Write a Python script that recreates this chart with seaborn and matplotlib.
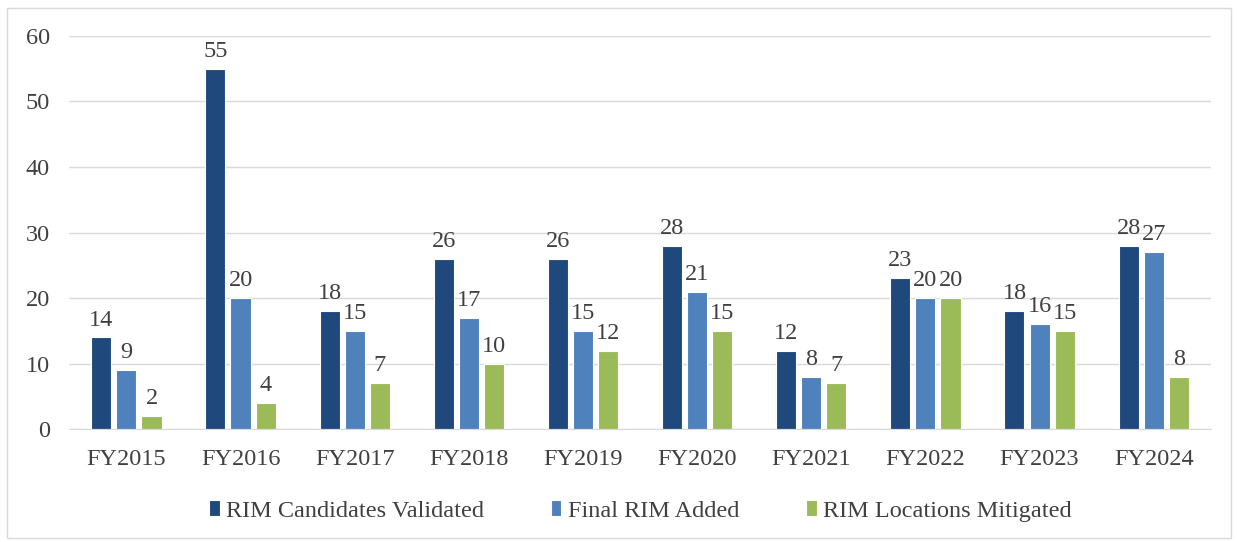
import pandas as pd
import matplotlib.pyplot as plt
import seaborn as sns
from matplotlib.patches import Rectangle

years = ['FY2015', 'FY2016', 'FY2017', 'FY2018', 'FY2019',
         'FY2020', 'FY2021', 'FY2022', 'FY2023', 'FY2024']
validated = [14, 55, 18, 26, 26, 28, 12, 23, 18, 28]
added = [9, 20, 15, 17, 15, 21, 8, 20, 16, 27]
mitigated = [2, 4, 7, 10, 12, 15, 7, 20, 15, 8]
series = ['RIM Candidates Validated', 'Final RIM Added', 'RIM Locations Mitigated']

rows = []
for name, vals in zip(series, [validated, added, mitigated]):
    for yr, v in zip(years, vals):
        rows.append([yr, name, v])
df = pd.DataFrame(rows, columns=['Year', 'Series', 'Count'])

sns.set_style('white')
plt.rcParams['font.family'] = ['Liberation Serif', 'DejaVu Serif']
text_col = '#404040'
fs = 17.5

fig, ax = plt.subplots(figsize=(12.38, 5.42), dpi=100)
fig.subplots_adjust(left=0.056, right=0.978, top=0.934, bottom=0.208)

sns.barplot(data=df, x='Year', y='Count', hue='Series',
            palette=['#1f497d', '#4f81bd', '#9bbb59'],
            width=0.66, gap=0.2, edgecolor='white', linewidth=0.8,
            saturation=1, ax=ax)

for cont in ax.containers:
    ax.bar_label(cont, padding=5, fontsize=fs, color=text_col)

ax.set_ylim(0, 60)
ax.set_yticks(range(0, 61, 10))
ax.set_xlim(-0.5, 9.5)
ax.yaxis.grid(True, color='#d9d9d9', linewidth=1)
ax.set_axisbelow(True)
for s in ['top', 'right', 'left']:
    ax.spines[s].set_visible(False)
ax.spines['bottom'].set_color('#d9d9d9')
ax.tick_params(axis='both', labelsize=fs, colors=text_col, length=0)
ax.tick_params(axis='y', pad=14)
ax.tick_params(axis='x', pad=14)
ax.set_xlabel('')
ax.set_ylabel('')

ax.legend(loc='upper center', bbox_to_anchor=(0.5, -0.125), ncol=3,
          frameon=False, fontsize=fs, handlelength=0.45, handleheight=0.6,
          handletextpad=0.25, columnspacing=2.75, labelcolor=text_col)

fig.patches.append(Rectangle((0.006, 0.008), 0.988, 0.978, transform=fig.transFigure,
                             fill=False, edgecolor='#d9d9d9', linewidth=1))

fig.savefig('out.png', dpi=100)
